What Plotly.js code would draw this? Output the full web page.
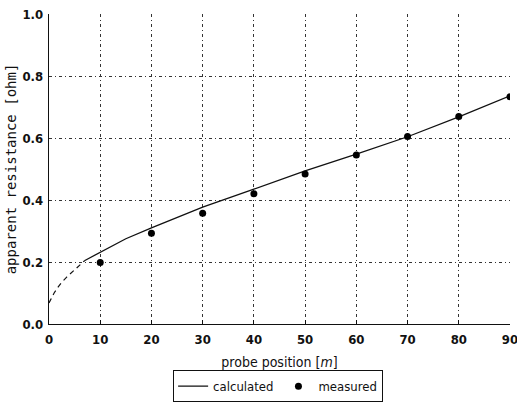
<!DOCTYPE html>
<html><head><meta charset="utf-8">
<script src="https://cdn.plot.ly/plotly-3.0.1.min.js"></script>
<style>body{margin:0;background:#fff}</style>
</head><body>
<div id="chart" style="width:517px;height:403px"></div>
<script>
const measX = [10, 20, 30, 40, 50, 60, 70, 80, 90];
const measY = [0.198, 0.293, 0.357, 0.42, 0.484, 0.545, 0.605, 0.669, 0.733];
const calcDashX = [0, 0.5, 1, 1.8, 2.5, 3.5, 5, 6.6, 7];
const calcDashY = [0.068, 0.085, 0.1, 0.12, 0.135, 0.152, 0.175, 0.2, 0.205];
const calcX = [7, 10, 15, 20, 30, 40, 50, 60, 70, 80, 90];
const calcY = [0.205, 0.232, 0.275, 0.31, 0.377, 0.435, 0.494, 0.548, 0.604, 0.668, 0.736];
const xTicks = [0, 10, 20, 30, 40, 50, 60, 70, 80, 90];
const yTicks = [0.0, 0.2, 0.4, 0.6, 0.8, 1.0];

const traces = [
  {x: calcDashX, y: calcDashY, mode: 'lines', line: {color: '#111', width: 1.2, dash: '5px,4px'},
   legendgroup: 'c', showlegend: false, hoverinfo: 'skip'},
  {x: calcX, y: calcY, mode: 'lines', name: 'calculated', line: {color: '#111', width: 1.3},
   legendgroup: 'c'},
  {x: measX, y: measY, mode: 'markers', name: 'measured',
   marker: {color: '#000', size: 7, symbol: 'circle'}}
];

const layout = {
  width: 517, height: 403,
  margin: {l: 49, r: 7, t: 14, b: 79},
  paper_bgcolor: '#fff', plot_bgcolor: '#fff',
  font: {family: 'DejaVu Sans', color: '#111', size: 12},
  showlegend: true,
  legend: {orientation: 'h', x: 0.497, xanchor: 'center',
    yref: 'container', y: 0.002, yanchor: 'bottom',
    bordercolor: '#111', borderwidth: 1, bgcolor: '#fff',
    font: {family: 'DejaVu Sans Condensed', size: 13}, itemwidth: 30, tracegroupgap: 0},
  xaxis: {
    range: [0, 90], tickvals: xTicks, ticktext: xTicks.map(String), automargin: false,
    showgrid: true, gridcolor: '#333', griddash: '3px,3px,1px,3px', gridwidth: 1,
    showline: true, linecolor: '#111', linewidth: 1.3,
    ticks: 'inside', ticklen: 4, tickcolor: '#111', zeroline: false,
    ticklabeloverflow: 'allow', ticklabelstandoff: 3,
    tickfont: {family: 'DejaVu Sans Condensed', size: 13, weight: 'bold'},
    title: {text: 'probe position [<i>m</i>]', standoff: 12,
      font: {family: 'DejaVu Sans Condensed', size: 14}}
  },
  yaxis: {
    range: [0, 1.0], tickvals: yTicks, ticktext: yTicks.map(v => v.toFixed(1)), automargin: false,
    showgrid: true, gridcolor: '#333', griddash: '3px,3px,1px,3px', gridwidth: 1,
    showline: true, linecolor: '#111', linewidth: 1.3,
    ticks: '', zeroline: false, ticklabelstandoff: 2,
    tickfont: {family: 'DejaVu Sans Condensed', size: 13, weight: 'bold'},
    title: {text: 'apparent resistance [ohm]', standoff: 2,
      font: {family: 'DejaVu Sans Mono', size: 14}}
  }
};

Plotly.newPlot('chart', traces, layout, {displayModeBar: false, staticPlot: true});
</script>
</body></html>
